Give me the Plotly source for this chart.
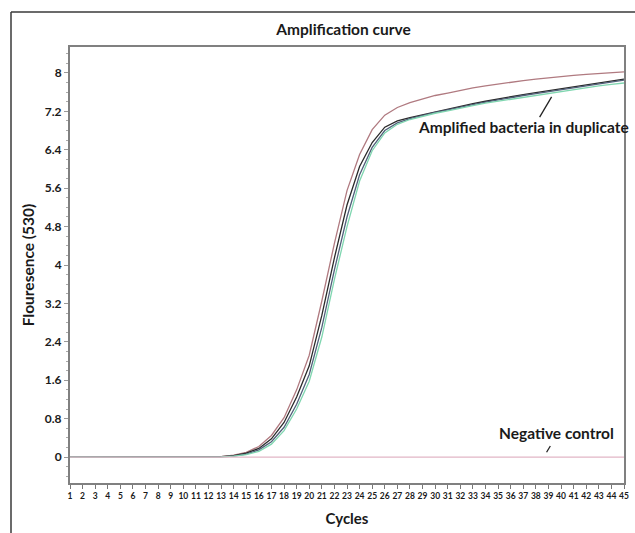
import plotly.graph_objects as go

cycles = list(range(1, 46))

red_curve = [0]*12 + [0.01, 0.04, 0.10, 0.22, 0.45, 0.82, 1.40, 2.12, 3.25, 4.45, 5.55, 6.30,
                      6.82, 7.12, 7.28, 7.38, 7.46, 7.53, 7.58, 7.64, 7.69, 7.73, 7.77, 7.80,
                      7.84, 7.87, 7.90, 7.93, 7.95, 7.97, 7.99, 8.01, 8.02]
black_curve = [0]*12 + [0.01, 0.03, 0.08, 0.18, 0.38, 0.72, 1.25, 1.90, 2.95, 4.15, 5.25, 6.05,
                        6.55, 6.87, 7.00, 7.07, 7.13, 7.19, 7.25, 7.30, 7.36, 7.41, 7.46, 7.51,
                        7.55, 7.59, 7.63, 7.67, 7.71, 7.75, 7.79, 7.83, 7.87]
blue_curve = [0]*12 + [0.005, 0.02, 0.06, 0.15, 0.32, 0.62, 1.10, 1.72, 2.70, 3.90, 5.00, 5.88,
                       6.45, 6.80, 6.96, 7.05, 7.12, 7.18, 7.23, 7.29, 7.34, 7.39, 7.44, 7.49,
                       7.53, 7.57, 7.61, 7.65, 7.69, 7.73, 7.77, 7.81, 7.85]
green_curve = [0]*12 + [0.005, 0.02, 0.05, 0.12, 0.27, 0.55, 1.00, 1.58, 2.50, 3.70, 4.80, 5.75,
                        6.38, 6.75, 6.93, 7.03, 7.10, 7.16, 7.21, 7.27, 7.32, 7.37, 7.41, 7.46,
                        7.50, 7.54, 7.58, 7.62, 7.66, 7.69, 7.73, 7.76, 7.79]
negative_control = [0]*45

y_ticks = [0, 0.8, 1.6, 2.4, 3.2, 4, 4.8, 5.6, 6.4, 7.2, 8]
y_tick_labels = ["0", "0.8", "1.6", "2.4", "3.2", "4", "4.8", "5.6", "6.4", "7.2", "8"]
x_tick_labels = [str(c) for c in cycles]

FONT = "Lato"
TXT = "#1a1a1a"

fig = go.Figure()
series = [
    ("Sample 1", red_curve, "#b07a80"),
    ("Sample 2", black_curve, "#2a2a2a"),
    ("Sample 3", blue_curve, "#51607a"),
    ("Sample 4", green_curve, "#7fd6b0"),
    ("Negative control", negative_control, "#e2b6c6"),
]
for name, vals, col in series:
    fig.add_trace(go.Scatter(x=cycles, y=vals, mode="lines", name=name,
                             line=dict(color=col, width=1.3), showlegend=False))

fig.update_layout(
    width=635, height=533,
    margin=dict(l=70, r=11, t=47, b=50, autoexpand=False),
    paper_bgcolor="white", plot_bgcolor="white",
    title=dict(text="Amplification curve", x=343.5 / 635, xanchor="center",
               y=1 - 30 / 533, yanchor="middle",
               font=dict(family=FONT, size=15.5, color=TXT, weight=700)),
    font=dict(family=FONT, color=TXT),
)

fig.update_xaxes(
    range=[1, 45], tickmode="array", tickvals=cycles, ticktext=x_tick_labels,
    tickfont=dict(family=FONT, size=8.5, color=TXT, weight=700),
    ticks="outside", ticklen=4, tickcolor="#777", tickwidth=1,
    showline=True, linecolor="#808080", linewidth=2, mirror=True,
    showgrid=False, zeroline=False, automargin=False,
    title=dict(text="Cycles", font=dict(family=FONT, size=15, color=TXT, weight=700), standoff=13),
)
fig.update_yaxes(
    range=[-0.54, 8.54], tickmode="array", tickvals=y_ticks, ticktext=y_tick_labels,
    tickfont=dict(family=FONT, size=12, color=TXT, weight=700),
    ticks="outside", ticklen=4, tickcolor="#999", tickwidth=1,
    minor=dict(ticks="outside", ticklen=2, tickcolor="#aaa", dtick=0.2, tick0=0),
    showline=True, linecolor="#808080", linewidth=2, mirror=True,
    showgrid=False, zeroline=False, automargin=False,
    title=dict(text="Flouresence (530)", font=dict(family=FONT, size=15.5, color=TXT, weight=700),
               standoff=6),
)

# outer frame
fig.add_shape(type="line", xref="paper", yref="paper",
              x0=(11 - 70) / 554, x1=(635 - 70) / 554,
              y0=(483 - 12) / 436, y1=(483 - 12) / 436,
              line=dict(color="#3a3a3a", width=1.5))
fig.add_shape(type="line", xref="paper", yref="paper",
              x0=(11 - 70) / 554, x1=(11 - 70) / 554,
              y0=(483 - 12) / 436, y1=(483 - 540) / 436,
              line=dict(color="#3a3a3a", width=1.5))

# labels
fig.add_annotation(text="Amplified bacteria in duplicate", x=37.0, y=6.88, xref="x", yref="y",
                   showarrow=False, xanchor="center", yanchor="middle",
                   font=dict(family=FONT, size=15.5, color=TXT, weight=700))
fig.add_shape(type="line", xref="x", yref="y", x0=38.3, y0=7.08, x1=39.25, y1=7.5,
              line=dict(color="#222", width=1.3))
fig.add_annotation(text="Negative control", x=39.6, y=0.5, xref="x", yref="y",
                   showarrow=False, xanchor="center", yanchor="middle",
                   font=dict(family=FONT, size=15.5, color=TXT, weight=700))
fig.add_shape(type="line", xref="x", yref="y", x0=38.85, y0=0.1, x1=39.15, y1=0.23,
              line=dict(color="#222", width=1.3))

fig.write_html("out.html", config={"displayModeBar": False},
               post_script="document.body.style.margin='0';document.body.style.overflow='hidden';")
